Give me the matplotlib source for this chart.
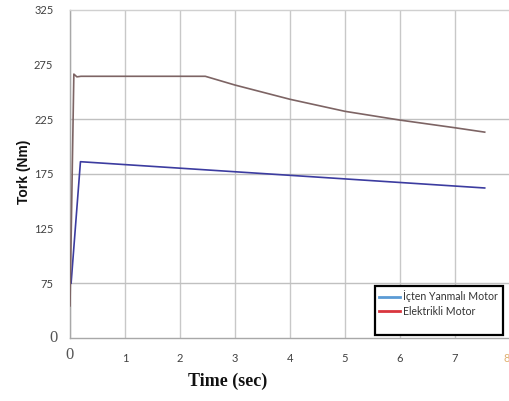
import numpy as np
import matplotlib
matplotlib.use("Agg")
import matplotlib.pyplot as plt
import matplotlib.transforms as mtransforms
from matplotlib.lines import Line2D

# ---- data ----
y_tick_values = [0, 75, 125, 175, 225, 275, 325]
y_tick_labels = ["0", "75", "125", "175", "225", "275", "325"]
x_tick_values = [0, 1, 2, 3, 4, 5, 6, 7, 8]
x_tick_labels = ["0", "1", "2", "3", "4", "5", "6", "7", "8"]
y_grid_values = [75, 175, 225]

t_ice = [0.02, 0.19, 7.54]
torque_ice = [75, 186, 162]

t_elec = [0.0, 0.07, 0.125, 0.2, 2.46, 3.0, 4.0, 5.0, 6.0, 7.0, 7.54]
torque_elec = [44, 266, 263.5, 264, 264, 256, 243, 232, 224, 217, 213]

series_names = ["İçten Yanmalı Motor", "Elektrikli Motor"]
legend_colors = ["#5b9bd5", "#d9363e"]
line_colors = ["#3c3ca0", "#7d6464"]

# ---- figure ----
W, H = 510, 401
fig = plt.figure(figsize=(W / 100, H / 100), dpi=100)
ax_left, ax_right, ax_top, ax_bottom = 70, 510, 9.5, 338
ax = fig.add_axes([ax_left / W, 1 - ax_bottom / H,
                   (ax_right - ax_left) / W, (ax_bottom - ax_top) / H])

idx = np.arange(len(y_tick_values), dtype=float)
vals = np.array(y_tick_values, dtype=float)
fwd = lambda v: np.interp(v, vals, idx)
inv = lambda u: np.interp(u, idx, vals)
ax.set_yscale("function", functions=(fwd, inv))

ax.plot(t_ice, torque_ice, color=line_colors[0], lw=1.2, zorder=3)
ax.plot(t_elec, torque_elec, color=line_colors[1], lw=1.2, zorder=3)

ax.set_xlim(0, (ax_right - ax_left) / 56.0)
ax.set_ylim(0, 325)

tick_font = dict(family=["Lato", "DejaVu Sans"], size=8)
ax.set_yticks(y_tick_values, y_tick_labels, color="#404040", **tick_font)
ax.set_xticks(x_tick_values, x_tick_labels, color="#404040", **tick_font)
ax.tick_params(length=0, pad=12)
ax.tick_params(axis="x", pad=11)

for lab in (ax.get_yticklabels()[0], ax.get_xticklabels()[0]):
    lab.set_fontfamily(["Liberation Serif"])
    lab.set_fontsize(12)
    lab.set_color("#555555")
x0 = ax.get_xticklabels()[0]
x0.set_transform(x0.get_transform() +
                 mtransforms.ScaledTranslation(0, 6 / 100, fig.dpi_scale_trans))
y0 = ax.get_yticklabels()[0]
y0.set_transform(y0.get_transform() +
                 mtransforms.ScaledTranslation(4 / 100, 2 / 100, fig.dpi_scale_trans))
last = ax.get_xticklabels()[-1]
last.set_color("#e0b070")
last.set_horizontalalignment("right")

# grid
ax.grid(axis="x", color="#c8c8c8", lw=1.0)
ax.yaxis.remove_overlapping_locs = False
ax.set_yticks(y_grid_values, minor=True)
ax.grid(axis="y", which="minor", color="#c0c0c0", lw=1.0)
ax.tick_params(which="minor", length=0)
ax.set_axisbelow(True)

for s in ("left", "bottom", "top"):
    ax.spines[s].set_color("#a8a8a8")
    ax.spines[s].set_linewidth(1.0)
ax.spines["top"].set_color("#d0d0d0")
ax.spines["right"].set_visible(False)

ax.set_ylabel("Tork (Nm)", fontsize=10, fontweight="bold",
              family=["Liberation Sans"], color="#111111")
ax.yaxis.set_label_coords(-0.088, 0.505)
ax.set_xlabel("Time (sec)", fontsize=13, fontweight="bold",
              family=["Liberation Serif"], color="#111111")
ax.xaxis.set_label_coords(0.359, -0.105)

handles = [Line2D([], [], color=c, lw=2) for c in legend_colors]
handles.append(Line2D([], [], color="none"))
leg = ax.legend(handles, series_names + [" "], loc="lower left",
                bbox_to_anchor=(0.693, 0.009), borderaxespad=0,
                prop=dict(family=["Lato", "DejaVu Sans"], size=7.6),
                handlelength=2.0, handletextpad=0.3, labelspacing=0.3,
                borderpad=0.4, fancybox=False, framealpha=1)
leg.get_frame().set_edgecolor("black")
leg.get_frame().set_linewidth(1.6)
for txt in leg.get_texts():
    txt.set_color("#333333")

fig.savefig("out.png", dpi=100)
